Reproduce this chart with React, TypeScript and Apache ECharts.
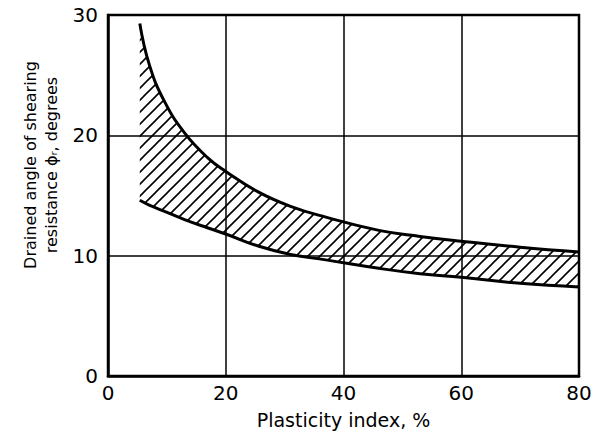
import React, { useEffect, useRef } from "react";
import * as echarts from "echarts";

const plasticityIndex = [5.4, 7, 9.5, 13, 17, 20, 25.5, 31, 37, 46, 53, 60, 70, 80];
const upperPhi = [29.3, 25.9, 22.9, 20.2, 18.1, 17.0, 15.3, 14.1, 13.2, 12.1, 11.6, 11.2, 10.7, 10.3];
const lowerPhi = [14.6, 14.2, 13.7, 13.0, 12.3, 11.8, 10.8, 10.1, 9.65, 8.95, 8.5, 8.2, 7.7, 7.4];
const xTicks = [0, 20, 40, 60, 80];
const yTicks = [0, 10, 20, 30];

const FONT = "DejaVu Sans";

function makeHatch(): HTMLCanvasElement {
  const s = 12;
  const c = document.createElement("canvas");
  c.width = s;
  c.height = s;
  const ctx = c.getContext("2d")!;
  ctx.strokeStyle = "#000";
  ctx.lineWidth = 1.6;
  ctx.lineCap = "square";
  ctx.beginPath();
  ctx.moveTo(-1, 1);
  ctx.lineTo(1, -1);
  ctx.moveTo(-1, s + 1);
  ctx.lineTo(s + 1, -1);
  ctx.moveTo(s - 1, s + 1);
  ctx.lineTo(s + 1, s - 1);
  ctx.stroke();
  return c;
}

export default function App() {
  const ref = useRef<HTMLDivElement>(null);
  useEffect(() => {
    if (!ref.current) return;
    const chart = echarts.init(ref.current, null, { renderer: "svg" });
    // value first (dim 0 = y) so that stacking happens on the y dimension
    const lowerData = plasticityIndex.map((x, i) => [lowerPhi[i], x]);
    const diffData = plasticityIndex.map((x, i) => [+(upperPhi[i] - lowerPhi[i]).toFixed(3), x]);
    const upperData = plasticityIndex.map((x, i) => [upperPhi[i], x]);
    const hatch = makeHatch();
    const smooth = 0.45;
    chart.setOption({
      animation: false,
      backgroundColor: "#fff",
      grid: { left: 108, top: 15, right: 19, bottom: 59, show: true, borderColor: "#000", borderWidth: 2.5 },
      xAxis: {
        type: "value",
        min: xTicks[0],
        max: xTicks[xTicks.length - 1],
        interval: 20,
        name: "Plasticity index, %",
        nameLocation: "middle",
        nameGap: 34,
        nameTextStyle: { fontFamily: FONT, fontSize: 19, color: "#000" },
        axisLine: { show: true, lineStyle: { color: "#000", width: 2.5 } },
        axisTick: { show: false },
        axisLabel: { fontFamily: FONT, fontSize: 20, color: "#000", margin: 7 },
        splitLine: { show: true, lineStyle: { color: "#000", width: 1.5 } },
      },
      yAxis: {
        type: "value",
        min: yTicks[0],
        max: yTicks[yTicks.length - 1],
        interval: 10,
        axisLine: { show: true, lineStyle: { color: "#000", width: 2.5 } },
        axisTick: { show: false },
        axisLabel: { fontFamily: FONT, fontSize: 20, color: "#000", margin: 10 },
        splitLine: { show: true, lineStyle: { color: "#000", width: 1.5 } },
      },
      graphic: [
        {
          type: "text",
          x: 41,
          y: 165,
          rotation: Math.PI / 2,
          style: {
            text: "Drained angle of shearing\nresistance \u03d5\u1d63, degrees",
            fontFamily: FONT,
            fontSize: 16,
            lineHeight: 21,
            fill: "#000",
            align: "center",
            verticalAlign: "middle",
          },
        },
      ],
      series: [
        {
          type: "line",
          data: lowerData,
          encode: { x: 1, y: 0 },
          stack: "band",
          smooth,
          symbol: "none",
          lineStyle: { color: "#000", width: 3 },
          z: 5,
        },
        {
          type: "line",
          data: diffData,
          encode: { x: 1, y: 0 },
          stack: "band",
          smooth,
          symbol: "none",
          lineStyle: { width: 0, opacity: 0 },
          areaStyle: { color: { image: hatch, repeat: "repeat" }, opacity: 1 },
          z: 3,
        },
        {
          type: "line",
          data: upperData,
          encode: { x: 1, y: 0 },
          smooth,
          symbol: "none",
          lineStyle: { color: "#000", width: 3 },
          z: 5,
        },
      ],
    });
    return () => chart.dispose();
  }, []);
  return <div ref={ref} style={{ width: 598, height: 435, position: "absolute", left: 0, top: 0 }} />;
}
